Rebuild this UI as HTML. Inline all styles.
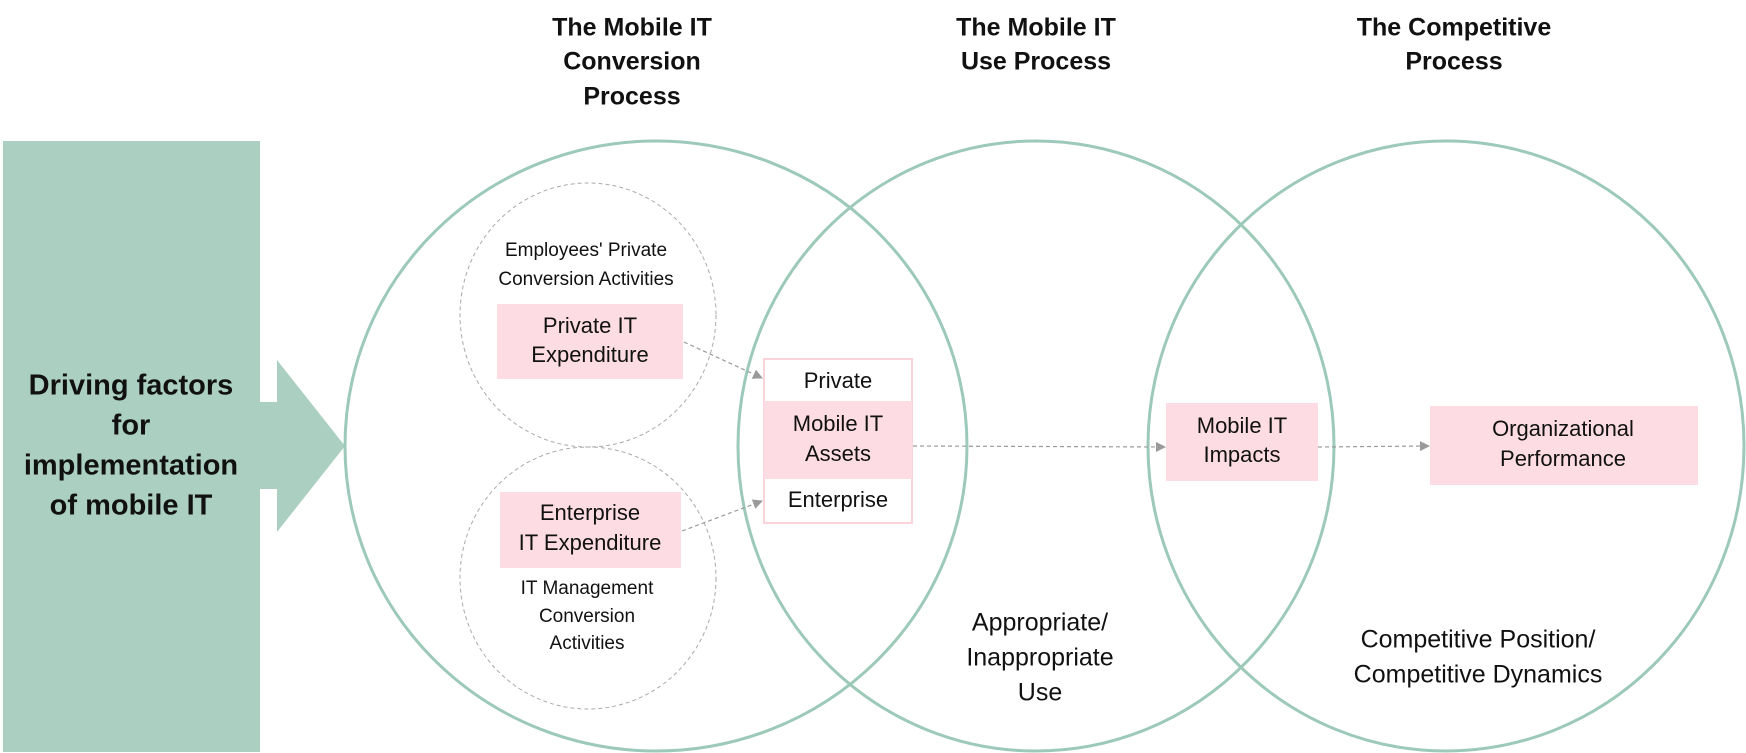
<!DOCTYPE html>
<html><head><meta charset="utf-8"><style>
html,body{margin:0;padding:0;background:#fff;}
svg{display:block;}
text{font-family:"Liberation Sans",sans-serif;fill:#111;text-anchor:middle;dominant-baseline:middle;}
.h{font-weight:bold;font-size:25px;}
.s{font-size:19px;}
.m{font-size:22px;}
.l{font-size:25px;}
</style></head><body>
<svg width="1746" height="753" viewBox="0 0 1746 753" xmlns="http://www.w3.org/2000/svg">
<defs>
<marker id="ah" markerWidth="10" markerHeight="10" refX="9" refY="5" orient="auto" markerUnits="userSpaceOnUse">
<path d="M0,0 L10,5 L0,10 z" fill="#9a9a9a"/></marker>
</defs>
<rect x="3" y="141" width="257" height="611" fill="#abcfc1"/>
<rect x="259" y="402" width="19" height="87" fill="#abcfc1"/>
<polygon points="277,360 345,446 277,532" fill="#abcfc1"/>
<text x="131" y="387" font-weight="bold" font-size="29">Driving factors</text>
<text x="131" y="427" font-weight="bold" font-size="29">for</text>
<text x="131" y="467" font-weight="bold" font-size="29">implementation</text>
<text x="131" y="507" font-weight="bold" font-size="29">of mobile IT</text>
<text class="h" x="632" y="29">The Mobile IT</text>
<text class="h" x="632" y="63">Conversion</text>
<text class="h" x="632" y="98">Process</text>
<text class="h" x="1036" y="29">The Mobile IT</text>
<text class="h" x="1036" y="63">Use Process</text>
<text class="h" x="1454" y="29">The Competitive</text>
<text class="h" x="1454" y="63">Process</text>
<g fill="none" stroke="#9cc9b8" stroke-width="3">
<ellipse cx="656" cy="446" rx="311" ry="305"/>
<ellipse cx="1036" cy="446" rx="298" ry="305"/>
<ellipse cx="1446" cy="446" rx="298" ry="305"/>
</g>
<g fill="none" stroke="#aaa" stroke-width="1" stroke-dasharray="4,3">
<ellipse cx="588" cy="315" rx="128" ry="132"/>
<ellipse cx="588" cy="578" rx="128" ry="131"/>
</g>
<text class="s" x="586" y="251">Employees' Private</text>
<text class="s" x="586" y="280">Conversion Activities</text>
<rect x="497" y="304" width="186" height="75" fill="#fddde3"/>
<text class="m" x="590" y="327">Private IT</text>
<text class="m" x="590" y="356">Expenditure</text>
<rect x="500" y="492" width="181" height="76" fill="#fddde3"/>
<text class="m" x="590" y="514">Enterprise</text>
<text class="m" x="590" y="544">IT Expenditure</text>
<text class="s" x="587" y="589">IT Management</text>
<text class="s" x="587" y="617">Conversion</text>
<text class="s" x="587" y="644">Activities</text>
<rect x="764" y="359" width="148" height="164" fill="#fff" stroke="#fad3db" stroke-width="2"/>
<rect x="764" y="401" width="148" height="78" fill="#fddde3"/>
<text class="m" x="838" y="382">Private</text>
<text class="m" x="838" y="425">Mobile IT</text>
<text class="m" x="838" y="455">Assets</text>
<text class="m" x="838" y="501">Enterprise</text>
<rect x="1166" y="403" width="152" height="78" fill="#fddde3"/>
<text class="m" x="1242" y="427">Mobile IT</text>
<text class="m" x="1242" y="456">Impacts</text>
<rect x="1430" y="406" width="268" height="79" fill="#fddde3"/>
<text class="m" x="1563" y="430">Organizational</text>
<text class="m" x="1563" y="460">Performance</text>
<g stroke="#9a9a9a" stroke-width="1.2" stroke-dasharray="4,3" fill="none">
<line x1="684" y1="342" x2="762" y2="378" marker-end="url(#ah)"/>
<line x1="682" y1="531" x2="762" y2="501" marker-end="url(#ah)"/>
<line x1="913" y1="446" x2="1165" y2="447" marker-end="url(#ah)"/>
<line x1="1318" y1="447" x2="1429" y2="446" marker-end="url(#ah)"/>
</g>
<text class="l" x="1040" y="624">Appropriate/</text>
<text class="l" x="1040" y="659">Inappropriate</text>
<text class="l" x="1040" y="694">Use</text>
<text class="l" x="1478" y="641">Competitive Position/</text>
<text class="l" x="1478" y="676">Competitive Dynamics</text>
</svg>
</body></html>
